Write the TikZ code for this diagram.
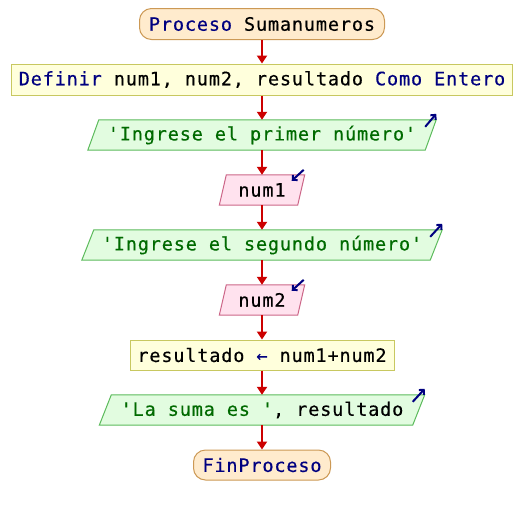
\documentclass[tikz,border=0pt]{standalone}
\usepackage{fontspec}
\usetikzlibrary{arrows.meta}
\newfontfamily\psefont{DejaVu Sans Mono}[LetterSpace=4.6,FakeBold=0.4]
\definecolor{kw}{HTML}{000080}
\definecolor{str}{HTML}{006A00}
\definecolor{termF}{HTML}{FFEBCD}
\definecolor{termB}{HTML}{CC9955}
\definecolor{procF}{HTML}{FFFFDC}
\definecolor{procB}{HTML}{C8C860}
\definecolor{outF}{HTML}{E2FCE0}
\definecolor{outB}{HTML}{5CBB5C}
\definecolor{inF}{HTML}{FFE2EE}
\definecolor{inB}{HTML}{CC6688}
\definecolor{flowC}{HTML}{CC0000}
\definecolor{cornC}{HTML}{000080}
\pgfdeclarelayer{bg}
\pgfsetlayers{bg,main}
\tikzset{
  term/.style={draw=termB, fill=termF, rounded corners=12pt, line width=1pt, minimum height=31pt, inner sep=0pt},
  proc/.style={draw=procB, fill=procF, line width=1pt, minimum height=31pt, inner sep=0pt},
  io/.style={inner sep=0pt, minimum height=30pt},
  outshape/.style={draw=outB, fill=outF, line width=1pt},
  inshape/.style={draw=inB, fill=inF, line width=1pt},
  flow/.style={draw=flowC, line width=2pt, -{Triangle[width=10pt,length=8pt]}},
  corner/.style={draw=cornC, line width=2pt, -{Straight Barb[length=3.5pt,width=7pt]}}
}
\begin{document}
\begin{tikzpicture}[x=1pt,y=-1pt, font=\fontsize{18.5}{20}\selectfont\psefont]
\useasboundingbox (0,0) rectangle (524,515);

\node[term, minimum width=245pt] (start) at (262,24) {\textcolor{kw}{Proceso} Sumanumeros};
\node[proc, minimum width=501pt] (def) at (262,79.5) {\textcolor{kw}{Definir} num1, num2, resultado \textcolor{kw}{Como Entero}};
\node[io, minimum width=348pt] (out1) at (262,135) {\textcolor{str}{'Ingrese el primer número'}};
\node[io, minimum width=85pt] (in1) at (262,190) {num1};
\node[io, minimum width=360pt] (out2) at (262,245) {\textcolor{str}{'Ingrese el segundo número'}};
\node[io, minimum width=85pt] (in2) at (262,300) {num2};
\node[proc, minimum width=264pt, minimum height=30pt] (res) at (262,355) {resultado \textcolor{kw}{←} num1+num2};
\node[io, minimum width=325pt] (out3) at (262,410) {\textcolor{str}{'La suma es '}, resultado};
\node[term, minimum width=137pt, minimum height=30pt] (fin) at (262,465) {\textcolor{kw}{FinProceso}};

\begin{pgfonlayer}{bg}
\fill[white] (0,0) rectangle (524,515);
\draw[outshape] ([xshift=11pt]out1.north west) -- (out1.north east) -- ([xshift=-11pt]out1.south east) -- (out1.south west) -- cycle;
\draw[outshape] ([xshift=12pt]out2.north west) -- (out2.north east) -- ([xshift=-12pt]out2.south east) -- (out2.south west) -- cycle;
\draw[outshape] ([xshift=12pt]out3.north west) -- (out3.north east) -- ([xshift=-12pt]out3.south east) -- (out3.south west) -- cycle;
\draw[inshape] ([xshift=7pt]in1.north west) -- (in1.north east) -- ([xshift=-7pt]in1.south east) -- (in1.south west) -- cycle;
\draw[inshape] ([xshift=7pt]in2.north west) -- (in2.north east) -- ([xshift=-7pt]in2.south east) -- (in2.south west) -- cycle;
\end{pgfonlayer}

\draw[flow] (start) -- (def);
\draw[flow] (def) -- (out1);
\draw[flow] (out1) -- (in1);
\draw[flow] (in1) -- (out2);
\draw[flow] (out2) -- (in2);
\draw[flow] (in2) -- (res);
\draw[flow] (res) -- (out3);
\draw[flow] (out3) -- (fin);

\draw[corner] ([xshift=-11pt,yshift=-7pt]out1.north east) -- ([yshift=6pt]out1.north east);
\draw[corner] ([xshift=-12pt,yshift=-7pt]out2.north east) -- ([yshift=6pt]out2.north east);
\draw[corner] ([xshift=-12pt,yshift=-7pt]out3.north east) -- ([yshift=6pt]out3.north east);
\draw[corner] ([xshift=-1pt,yshift=5pt]in1.north east) -- ([xshift=-13pt,yshift=-6pt]in1.north east);
\draw[corner] ([xshift=-1pt,yshift=5pt]in2.north east) -- ([xshift=-13pt,yshift=-6pt]in2.north east);
\end{tikzpicture}
\end{document}
